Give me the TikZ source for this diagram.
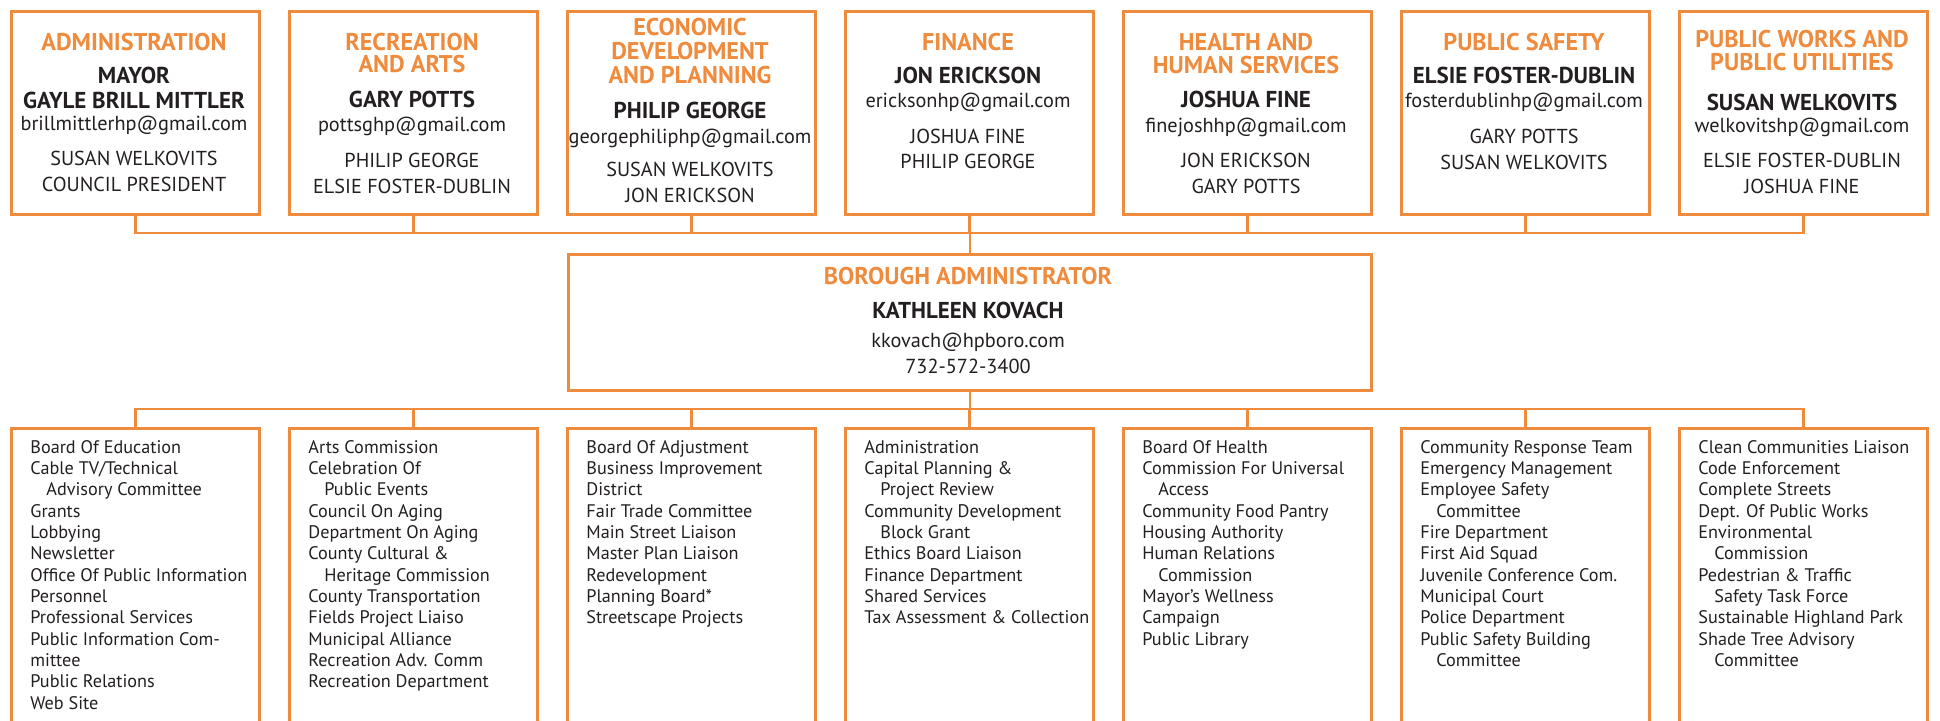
\documentclass[tikz,border=0pt]{standalone}
\usepackage{fontspec}
\setmainfont{PT Sans}
\definecolor{orng}{HTML}{EF8B3D}
\definecolor{ink}{HTML}{231F20}
\tikzset{
  box/.style={draw=orng, line width=1.35pt, minimum width=124pt, inner sep=0pt, anchor=north west},
  conn/.style={draw=orng, line width=1.25pt},
  hd/.style={anchor=base, inner sep=0pt, text=orng, font=\fontsize{12.1}{12}\selectfont\bfseries},
  nm/.style={anchor=base, inner sep=0pt, text=ink, font=\fontsize{11.5}{12}\selectfont\bfseries},
  em/.style={anchor=base, inner sep=0pt, text=ink, font=\fontsize{10.15}{12}\selectfont},
  rg/.style={anchor=base, inner sep=0pt, text=ink, font=\fontsize{10.1}{12}\selectfont},
  lst/.style={anchor=base west, inner sep=0pt, text=ink, font=\fontsize{9.1}{10.667}\selectfont},
}
\newcommand\ind{\hspace*{8pt}}
\begin{document}
\begin{tikzpicture}[x=0.5pt,y=-0.5pt]
\useasboundingbox (0,0) rectangle (1940,720);
\clip (0,0) rectangle (1940,720);
% boxes
\foreach \i in {1,...,7}{
  \node[box, minimum height=101.5pt] (t\i) at ({10+278*(\i-1)},10) {};
  \node[box, minimum height=160pt] (b\i) at ({10+278*(\i-1)},427) {};
}
\node[box, minimum width=401.5pt, minimum height=68pt] (ba) at (567,253) {};
% connectors
\coordinate (bt) at (0,233);
\coordinate (bb) at (0,409);
\draw[conn] (t1.south) |- (bt -| t7.south) -- (t7.south);
\foreach \i in {2,...,6} \draw[conn] (t\i.south) -- (t\i.south |- bt);
\draw[conn] (bt -| ba.north) -- (ba.north);
\draw[conn] (ba.south) -- (ba.south |- bb);
\draw[conn] (b1.north) |- (bb -| b7.north) -- (b7.north);
\foreach \i in {2,...,6} \draw[conn] (b\i.north) -- (b\i.north |- bb);
% box 1
\node[hd] (h1a) at (134,50) {ADMINISTRATION};
\node[nm] (n1a) at (134,83) {MAYOR};
\node[nm] (n1b) at (134,108) {GAYLE BRILL MITTLER};
\node[em] (e1) at (134,130) {brillmittlerhp@gmail.com};
\node[rg] (r1a) at (134,165) {SUSAN WELKOVITS};
\node[rg] (r1b) at (134,191) {COUNCIL PRESIDENT};
% box 2
\node[hd] (h2a) at (412,50) {RECREATION};
\node[hd] (h2b) at (412,72) {AND ARTS};
\node[nm] (n2) at (412,107) {GARY POTTS};
\node[em] (e2) at (412,131) {pottsghp@gmail.com};
\node[rg] (r2a) at (412,167) {PHILIP GEORGE};
\node[rg] (r2b) at (412,193) {ELSIE FOSTER-DUBLIN};
% box 3
\node[hd] (h3a) at (690,35) {ECONOMIC};
\node[hd] (h3b) at (690,59) {DEVELOPMENT};
\node[hd] (h3c) at (690,83) {AND PLANNING};
\node[nm] (n3) at (690,118) {PHILIP GEORGE};
\node[em] (e3) at (690,143) {georgephiliphp@gmail.com};
\node[rg] (r3a) at (690,176) {SUSAN WELKOVITS};
\node[rg] (r3b) at (690,202) {JON ERICKSON};
% box 4
\node[hd] (h4a) at (968,50) {FINANCE};
\node[nm] (n4) at (968,83) {JON ERICKSON};
\node[em] (e4) at (968,107) {ericksonhp@gmail.com};
\node[rg] (r4a) at (968,143) {JOSHUA FINE};
\node[rg] (r4b) at (968,168) {PHILIP GEORGE};
% box 5
\node[hd] (h5a) at (1246,50) {HEALTH AND};
\node[hd] (h5b) at (1246,73) {HUMAN SERVICES};
\node[nm] (n5) at (1246,107) {JOSHUA FINE};
\node[em] (e5) at (1246,132) {finejoshhp@gmail.com};
\node[rg] (r5a) at (1246,167) {JON ERICKSON};
\node[rg] (r5b) at (1246,193) {GARY POTTS};
% box 6
\node[hd] (h6a) at (1524,50) {PUBLIC SAFETY};
\node[nm] (n6) at (1524,83) {ELSIE FOSTER-DUBLIN};
\node[em] (e6) at (1524,107) {fosterdublinhp@gmail.com};
\node[rg] (r6a) at (1524,143) {GARY POTTS};
\node[rg] (r6b) at (1524,169) {SUSAN WELKOVITS};
% box 7
\node[hd] (h7a) at (1802,47) {PUBLIC WORKS AND};
\node[hd] (h7b) at (1802,70) {PUBLIC UTILITIES};
\node[nm] (n7) at (1802,110) {SUSAN WELKOVITS};
\node[em] (e7) at (1802,132) {welkovitshp@gmail.com};
\node[rg] (r7a) at (1802,167) {ELSIE FOSTER-DUBLIN};
\node[rg] (r7b) at (1802,193) {JOSHUA FINE};
% borough administrator
\node[hd] (bah) at (968,284) {BOROUGH ADMINISTRATOR};
\node[nm] (ban) at (968,318) {KATHLEEN KOVACH};
\node[em] (bae) at (968,347) {kkovach@hpboro.com};
\node[em] (bap) at (968,373) {732-572-3400};
% lists
\node[lst] (l1) at (30,453) {\parbox[t]{115pt}{\raggedright
Board Of Education\\
Cable TV/Technical\\
\ind Advisory Committee\\
Grants\\
Lobbying\\
Newsletter\\
Office Of Public Information\\
Personnel\\
Professional Services\\
Public Information Com-\\
mittee\\
Public Relations\\
Web Site}};
\node[lst] (l2) at (308,453) {\parbox[t]{115pt}{\raggedright
Arts Commission\\
Celebration Of\\
\ind Public Events\\
Council On Aging\\
Department On Aging\\
County Cultural \&\\
\ind Heritage Commission\\
County Transportation\\
Fields Project Liaiso\\
Municipal Alliance\\
Recreation Adv. Comm\\
Recreation Department}};
\node[lst] (l3) at (586,453) {\parbox[t]{115pt}{\raggedright
Board Of Adjustment\\
Business Improvement\\
District\\
Fair Trade Committee\\
Main Street Liaison\\
Master Plan Liaison\\
Redevelopment\\
Planning Board*\\
Streetscape Projects}};
\node[lst] (l4) at (864,453) {\parbox[t]{115pt}{\raggedright
Administration\\
Capital Planning \&\\
\ind Project Review\\
Community Development\\
\ind Block Grant\\
Ethics Board Liaison\\
Finance Department\\
Shared Services\\
Tax Assessment \& Collection}};
\node[lst] (l5) at (1142,453) {\parbox[t]{115pt}{\raggedright
Board Of Health\\
Commission For Universal\\
\ind Access\\
Community Food Pantry\\
Housing Authority\\
Human Relations\\
\ind Commission\\
Mayor’s Wellness\\
Campaign\\
Public Library}};
\node[lst] (l6) at (1420,453) {\parbox[t]{115pt}{\raggedright
Community Response Team\\
Emergency Management\\
Employee Safety\\
\ind Committee\\
Fire Department\\
First Aid Squad\\
Juvenile Conference Com.\\
Municipal Court\\
Police Department\\
Public Safety Building\\
\ind Committee}};
\node[lst] (l7) at (1698,453) {\parbox[t]{115pt}{\raggedright
Clean Communities Liaison\\
Code Enforcement\\
Complete Streets\\
Dept. Of Public Works\\
Environmental\\
\ind Commission\\
Pedestrian \& Traffic\\
\ind Safety Task Force\\
Sustainable Highland Park\\
Shade Tree Advisory\\
\ind Committee}};
\end{tikzpicture}
\end{document}
